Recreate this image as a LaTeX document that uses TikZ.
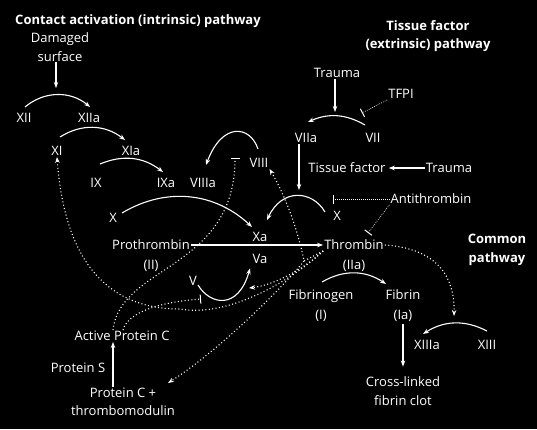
\documentclass[tikz,border=0pt]{standalone}
\usepackage{fontspec}
\setmainfont{Open Sans}
\usetikzlibrary{arrows.meta,positioning,calc}

\begin{document}
\begin{tikzpicture}[x=1pt, y=-1pt,
    >={Stealth[length=6pt,width=4.5pt]},
    every node/.style={text=white, font=\fontsize{13}{18.5}\selectfont},
    factor/.style={inner sep=1pt, text height=9.5pt, text depth=0pt},
    twoline/.style={inner sep=1pt, align=center},
    heading/.style={inner sep=1pt, align=center, font=\bfseries\fontsize{13}{18.5}\selectfont},
    act/.style={->, draw=white, line width=1.1pt},
    feedback/.style={->, draw=white, line width=1.1pt, dash pattern=on 1pt off 2.4pt},
    inhib/.style={-{Bar[width=9pt,line width=1pt]}, draw=white, line width=1.1pt, dash pattern=on 1pt off 2.4pt},
    fineinhib/.style={-{Bar[width=9pt,line width=1pt]}, draw=white, line width=.7pt, dash pattern=on .7pt off 1.3pt}]
    \fill[black] (0,0) rectangle (537,429);

    % intrinsic side
    \node[heading] (intrinsic) at (138,21) {Contact activation (intrinsic) pathway};
    \node[twoline] (damaged) at (60,47) {Damaged\\surface};
    \node[factor] (xii) at (24,118) {XII};
    \node[factor] (xiia) at (89,118) {XIIa};
    \node[factor] (xi) at (57,151) {XI};
    \node[factor] (xia) at (131,151) {XIa};
    \node[factor] (ix) at (96,183) {IX};
    \node[factor] (ixa) at (166,183) {IXa};
    \node[factor] (viiia) at (203,183) {VIIIa};
    \node[factor] (viii) at (259,163) {VIII};
    \node[factor] (x) at (113,218) {X};
    \node[factor] (xa) at (260,237) {Xa};
    \node[factor, below=9.5pt of xa] (va) {Va};
    \node[factor] (prothrombin) at (151,245) {Prothrombin};
    \node[factor, below=7.5pt of prothrombin] (ii) {(II)};
    \node[factor] (v) at (193,281) {V};

    % extrinsic side
    \node[heading] (extrinsic) at (428,36) {Tissue factor\\(extrinsic) pathway};
    \node[factor] (trauma) at (337,73) {Trauma};
    \node[factor] (tfpi) at (401,94) {TFPI};
    \node[factor] (viia) at (306,138) {VIIa};
    \node[factor] (vii) at (373,138) {VII};
    \node[factor] (tissue) at (347,168) {Tissue factor};
    \node[factor] (trauma2) at (449,168) {Trauma};
    \node[factor] (xtf) at (337,216) {X};
    \node[factor] (antithrombin) at (431,199) {Antithrombin};

    % common side
    \node[factor] (thrombin) at (354,245) {Thrombin};
    \node[factor, below=7.5pt of thrombin] (iia) {(IIa)};
    \node[heading] (common) at (497,250) {Common\\pathway};
    \node[factor] (fibrinogen) at (321,295) {Fibrinogen};
    \node[factor, below=7.5pt of fibrinogen] (i) {(I)};
    \node[factor] (fibrin) at (403,295) {Fibrin};
    \node[factor, below=7.5pt of fibrin] (ia) {(Ia)};
    \node[factor] (xiiia) at (427,345) {XIIIa};
    \node[factor] (xiii) at (487,345) {XIII};
    \node[twoline] (clot) at (403,391) {Cross-linked\\fibrin clot};
    \node[factor] (apc) at (122,336) {Active Protein C};
    \node[factor] (proteins) at (78,368) {Protein S};
    \node[twoline] (proteinc) at (123,402) {Protein C +\\thrombomodulin};

    % free ends
    \coordinate (hit12) at (56,88);
    \coordinate (hit7) at (335,112);
    \coordinate (hitx) at (299,190);
    \coordinate (bartfpi) at (362,113);
    \coordinate (barx) at (333,199);
    \coordinate (barthr) at (368,233);
    \coordinate (barviii) at (235,158);
    \coordinate (barv) at (201,299);
    \coordinate (tjoin) at (304,261);
    \coordinate (xiloop) at (180,309);
    \coordinate (tov) at (249,288);
    \coordinate (topc) at (168,383);
    \coordinate (toxiii) at (454,316);

    % activation steps
    \draw[act] (damaged.south -| hit12) -- (hit12);
    \draw[act] ($(xii)+(1,-11)$) to[bend left=40] ($(xiia)+(1,-11)$);
    \draw[act] ($(xi)+(3,-14)$) to[bend left=35] ($(xia)+(-6,-11)$);
    \draw[act] ($(ix)+(4,-19)$) to[bend left=30] ($(ixa)+(-3,-11)$);
    \draw[act] ($(viii)+(-1,-14)$) .. controls +(-8,-24) and +(16,-43) .. ($(viiia)+(3,-18)$);
    \draw[act] ($(x)+(9,-5)$) to[bend left=37] ($(xa)+(-8,-10)$);
    \draw[act] ($(xtf)+(-12,-4)$) .. controls +(-13,-22) and +(15,-32) .. ($(xa)+(7,-17)$);
    \draw[act] ($(v)+(5,4)$) .. controls +(12,20) and +(-12,42) .. ($(va)+(-10,10)$);
    \draw[act] (prothrombin) -- (thrombin);
    \draw[act] (trauma.south -| hit7) -- (hit7);
    \draw[act] ($(vii)+(-8,-13)$) to[bend right=27] ($(viia)+(2,-16)$);
    \draw[act] (viia.south -| hitx) -- (hitx);
    \draw[act, shorten >=2pt] (trauma2) -- (tissue);
    \draw[act] ($(fibrinogen)+(1,-13)$) to[bend left=32] ($(fibrin)+(-17,-11)$);
    \draw[act] ($(xiii)+(0,-14)$) to[bend right=30] ($(xiiia)+(-4,-11)$);
    \draw[act, shorten <=4pt, shorten >=9pt] (ia) -- (clot);
    \draw[act] ($(proteinc.north)+(-10,0)$) -- ($(apc.south)+(-9,0)$);

    % inhibition
    \draw[fineinhib] (tfpi.south west) -- (bartfpi);
    \draw[fineinhib] (antithrombin.west) -- (barx);
    \draw[fineinhib] (antithrombin.south west) -- (barthr);
    \draw[inhib] ($(apc.north)+(-9,0)$) .. controls (120,265) and (235,270) .. (barviii);
    \draw[inhib] ($(apc.north)+(1,0)$) .. controls (128,312) and (160,302) .. (barv);

    % thrombin feedback
    \draw[feedback] (thrombin.south west) .. controls (295,278) and (230,318) .. (xiloop)
        .. controls (110,309) and (65,265) .. (xi.south);
    \draw[feedback] (thrombin.south west) .. controls (305,268) and (275,285) .. (tov);
    \draw[feedback] (thrombin.south west) -- (tjoin) .. controls (298,230) and (285,195) .. (viii.south east);
    \draw[feedback] (tjoin) .. controls (285,285) and (220,350) .. (topc);
    \draw[feedback] (thrombin.east) .. controls (430,248) and (455,270) .. (toxiii);
\end{tikzpicture}
\end{document}
